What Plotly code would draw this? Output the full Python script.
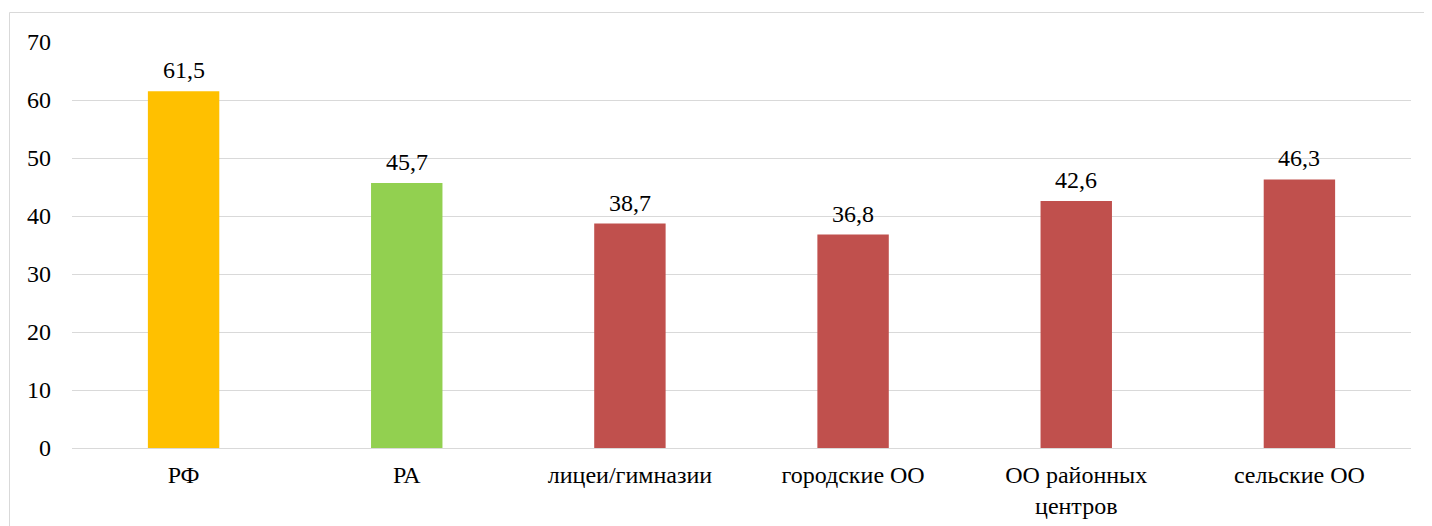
import plotly.graph_objects as go

categories = ["РФ", "РА", "лицеи/гимназии", "городские ОО", "ОО районных<br>центров", "сельские ОО"]
values = [61.5, 45.7, 38.7, 36.8, 42.6, 46.3]
colors = ["#FFC000", "#92D050", "#C0504D", "#C0504D", "#C0504D", "#C0504D"]
y_ticks = [0, 10, 20, 30, 40, 50, 60, 70]

FONT = "Times New Roman, Liberation Serif, DejaVu Serif, serif"
FS = 24

fig = go.Figure()
fig.add_trace(go.Bar(
    x=categories, y=values, marker=dict(color=colors, line=dict(width=0)),
    width=0.32, hoverinfo="skip",
))

for c, v in zip(categories, values):
    fig.add_annotation(
        x=c, y=v, text=f"{v:.1f}".replace(".", ","), showarrow=False,
        yanchor="bottom", yshift=6, font=dict(family=FONT, size=FS, color="#000000"),
    )

# page has an 8px body offset
OFF = 8
W, H = 1432 - OFF, 526 - OFF
ml, mt = 72 - OFF, 42 - OFF
pw, ph = 1339, 406
mr, mb = W - ml - pw, H - mt - ph

fig.add_shape(
    type="rect", xref="paper", yref="paper",
    x0=(9.5 - 72) / pw, x1=(1431.5 - 72) / pw,
    y0=-0.5, y1=(448 - 12.5) / ph,
    line=dict(color="#D9D9D9", width=1), fillcolor="rgba(0,0,0,0)", layer="below",
)

fig.update_layout(
    width=W, height=H,
    margin=dict(l=ml, r=mr, t=mt, b=mb),
    paper_bgcolor="white", plot_bgcolor="white",
    showlegend=False,
    font=dict(family=FONT, size=FS, color="#000000"),
    xaxis=dict(showgrid=False, showline=False, ticks="", ticklabelstandoff=10,
               automargin=False, tickfont=dict(family=FONT, size=FS)),
    yaxis=dict(range=[0, 70], tickvals=y_ticks, showgrid=True, gridcolor="#D9D9D9",
               gridwidth=1, zeroline=True, zerolinecolor="#D9D9D9", zerolinewidth=1,
               showline=False, ticks="", ticklabelstandoff=20, automargin=False,
               tickfont=dict(family=FONT, size=FS)),
)

fig.write_html("out.html")
